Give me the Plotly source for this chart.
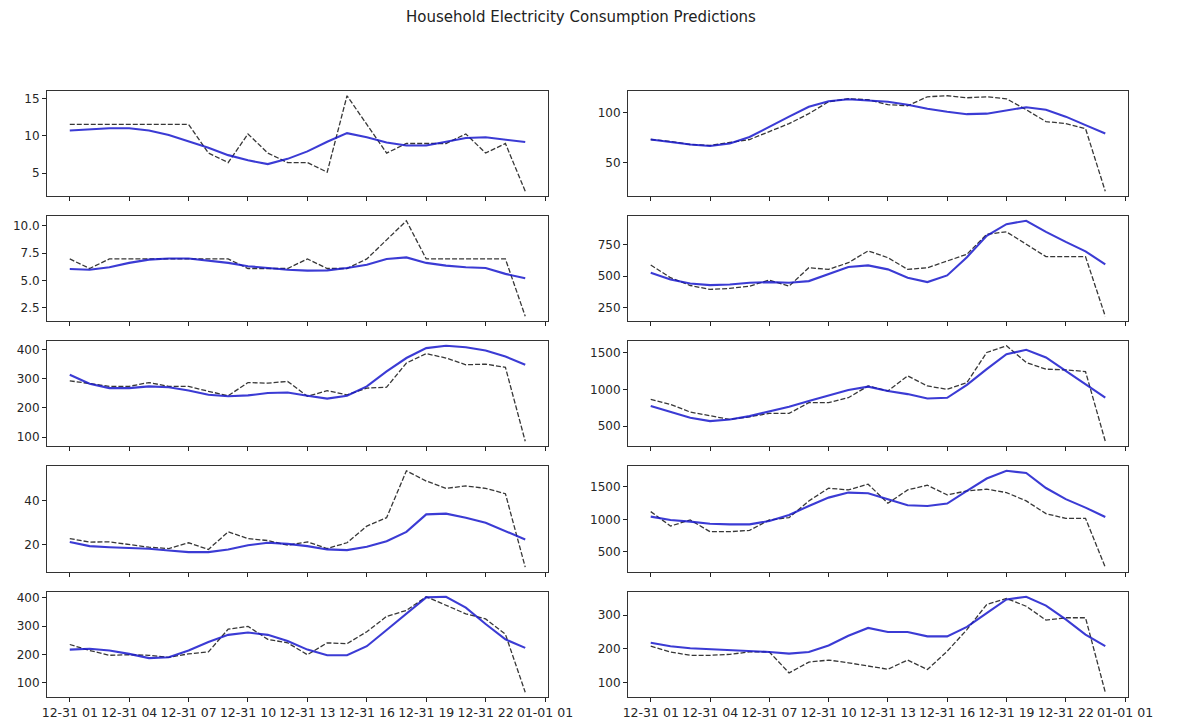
import pandas as pd
import plotly.graph_objects as go
from plotly.subplots import make_subplots

# Hourly timestamps (24 readings) and x tick positions
hours = pd.date_range("2020-12-31 01:00", periods=24, freq="h")
x_ticks = pd.date_range("2020-12-31 01:00", "2021-01-01 01:00", freq="3h")

# Actual (dashed) and predicted (solid) consumption, one pair per household
p1_actual = [11.52, 11.52, 11.52, 11.52, 11.52, 11.52, 11.52, 7.68, 6.4, 10.24, 7.68, 6.4,
             6.4, 5.12, 15.36, 11.52, 7.68, 8.96, 8.96, 8.96, 10.24, 7.68, 8.96, 2.56]
p1_pred = [10.7, 10.9, 11.0, 11.0, 10.7, 10.1, 9.3, 8.4, 7.4, 6.7, 6.2, 6.9,
           7.9, 9.2, 10.35, 9.8, 9.1, 8.7, 8.7, 9.15, 9.7, 9.8, 9.5, 9.15]

p2_actual = [73, 71, 68, 67, 70, 73, 81, 89, 99, 111, 114, 113,
             108, 107, 116, 117, 115, 116, 114, 103, 91, 89, 84, 21]
p2_pred = [73, 70.5, 68, 66.5, 69, 75.5, 86, 96, 106, 111.5, 113.5, 112.5,
           111, 108, 104, 101, 98.5, 99, 102.5, 105.5, 103, 96, 87.5, 79]

p3_actual = [6.96, 6.09, 6.96, 6.96, 6.96, 6.96, 6.96, 6.96, 6.96, 6.09, 6.09, 6.09,
             6.96, 6.09, 6.09, 6.96, 8.7, 10.44, 6.96, 6.96, 6.96, 6.96, 6.96, 1.74]
p3_pred = [6.04, 5.98, 6.2, 6.6, 6.9, 7.0, 7.0, 6.8, 6.6, 6.3, 6.13, 5.98,
           5.9, 5.92, 6.13, 6.43, 6.95, 7.1, 6.6, 6.35, 6.2, 6.13, 5.6, 5.2]

p4_actual = [588, 487, 425, 394, 402, 420, 468, 420, 566, 553, 606, 700,
             646, 553, 566, 620, 673, 832, 851, 753, 654, 654, 654, 181]
p4_pred = [527, 473, 441, 428, 433, 447, 452, 447, 460, 513, 572, 585,
           553, 487, 452, 505, 650, 820, 912, 939, 851, 771, 696, 593]

p5_actual = [293, 283, 274, 274, 287, 274, 274, 257, 242, 287, 285, 291,
             240, 259, 245, 268, 271, 354, 386, 371, 348, 350, 339, 86]
p5_pred = [314, 283, 268, 268, 274, 271, 260, 245, 240, 243, 251, 253,
           242, 232, 242, 274, 325, 371, 405, 413, 408, 397, 376, 348]

p6_actual = [864, 795, 691, 645, 591, 627, 673, 673, 818, 818, 886, 1045,
             977, 1182, 1045, 1000, 1091, 1500, 1591, 1364, 1273, 1264, 1241, 295]
p6_pred = [773, 691, 614, 568, 591, 636, 695, 764, 841, 918, 991, 1036,
           977, 935, 875, 885, 1060, 1273, 1477, 1536, 1432, 1250, 1068, 886]

p7_actual = [22.9, 21.3, 21.4, 20.2, 19.0, 18.4, 21.0, 18.0, 25.9, 22.9, 22.0, 19.9,
             21.4, 18.4, 21.0, 28.5, 32.3, 53.4, 48.8, 45.5, 46.6, 45.5, 43.1, 10.0]
p7_pred = [21.3, 19.5, 19.0, 18.7, 18.3, 17.5, 16.8, 16.8, 18.0, 19.9, 21.0, 20.5,
           19.5, 18.0, 17.7, 19.2, 21.7, 25.9, 33.8, 34.1, 32.3, 30.0, 26.2, 22.5]

p8_actual = [1118, 897, 990, 810, 810, 831, 990, 1026, 1282, 1477, 1451, 1539,
             1246, 1451, 1523, 1374, 1436, 1462, 1410, 1282, 1087, 1015, 1015, 266]
p8_pred = [1041, 990, 964, 933, 923, 923, 974, 1067, 1205, 1333, 1410, 1400,
           1308, 1215, 1205, 1241, 1436, 1626, 1744, 1710, 1480, 1310, 1180, 1035]

p9_actual = [235, 214, 197, 199, 197, 190, 202, 209, 289, 299, 253, 241,
             199, 241, 238, 280, 334, 355, 403, 373, 343, 325, 271, 67]
p9_pred = [217, 220, 214, 202, 187, 190, 214, 244, 269, 277, 269, 247,
           217, 197, 197, 229, 286, 343, 401, 403, 365, 307, 253, 223]

p10_actual = [208, 191, 181, 181, 184, 191, 191, 129, 161, 167, 159, 149,
              140, 167, 139, 193, 257, 331, 349, 326, 285, 292, 292, 72]
p10_pred = [218, 208, 202, 199, 197, 195, 191, 186, 191, 210, 239, 262,
            250, 250, 237, 237, 265, 306, 346, 354, 328, 287, 242, 208]

# y tick labels per panel
p1_ticks = [5, 10, 15]
p2_ticks = [50, 100]
p3_ticks = [2.5, 5.0, 7.5, 10.0]
p4_ticks = [250, 500, 750]
p5_ticks = [100, 200, 300, 400]
p6_ticks = [500, 1000, 1500]
p7_ticks = [20, 40]
p8_ticks = [500, 1000, 1500]
p9_ticks = [100, 200, 300, 400]
p10_ticks = [100, 200, 300]

panels = [
    (p1_actual, p1_pred, p1_ticks, False),
    (p2_actual, p2_pred, p2_ticks, False),
    (p3_actual, p3_pred, p3_ticks, True),
    (p4_actual, p4_pred, p4_ticks, False),
    (p5_actual, p5_pred, p5_ticks, False),
    (p6_actual, p6_pred, p6_ticks, False),
    (p7_actual, p7_pred, p7_ticks, False),
    (p8_actual, p8_pred, p8_ticks, False),
    (p9_actual, p9_pred, p9_ticks, False),
    (p10_actual, p10_pred, p10_ticks, False),
]

W, H = 1184, 722
col_px = [(47, 548), (628, 1128)]
row_px = [(91, 196), (216, 321), (341, 446), (466, 572), (592, 697)]

fig = make_subplots(rows=5, cols=2)

span = hours[-1] - hours[0]
x_range = [hours[0] - span * 0.05, hours[-1] + span * 0.05]

font_family = "DejaVu Sans"

for i, (actual, pred, yt, decimal) in enumerate(panels):
    r, c = i // 2 + 1, i % 2 + 1
    fig.add_trace(go.Scatter(x=hours, y=actual, mode="lines",
                             line=dict(color="rgba(20,20,20,0.85)", width=1.3, dash="5px,2px"),
                             showlegend=False, hoverinfo="skip"), row=r, col=c)
    fig.add_trace(go.Scatter(x=hours, y=pred, mode="lines",
                             line=dict(color="rgba(25,25,205,0.85)", width=2.1),
                             showlegend=False, hoverinfo="skip"), row=r, col=c)

    lo = min(min(actual), min(pred))
    hi = max(max(actual), max(pred))
    pad = (hi - lo) * 0.05
    x0, x1 = col_px[c - 1]
    y0, y1 = row_px[r - 1]
    ax_idx = "" if i == 0 else str(i + 1)
    fig.layout["xaxis" + ax_idx].update(
        domain=[x0 / W, x1 / W], range=x_range,
        tickvals=x_ticks, tickformat="%m-%d %H",
        showticklabels=(r == 5), tickangle=0, automargin=False,
        ticks="outside", ticklen=4, tickwidth=1, tickcolor="#222",
        showline=True, mirror=True, linecolor="#333", linewidth=1,
        showgrid=False, zeroline=False,
        tickfont=dict(family=font_family, size=12.5, color="#262626"),
    )
    fig.layout["yaxis" + ax_idx].update(
        domain=[1 - y1 / H, 1 - y0 / H], range=[lo - pad, hi + pad],
        tickvals=yt, tickformat=".1f" if decimal else "", automargin=False,
        ticks="outside", ticklen=4, tickwidth=1, tickcolor="#222",
        showline=True, mirror=True, linecolor="#333", linewidth=1,
        showgrid=False, zeroline=False,
        tickfont=dict(family=font_family, size=12, color="#262626"),
    )

fig.update_layout(
    width=W, height=H,
    margin=dict(l=0, r=0, t=0, b=0),
    paper_bgcolor="white", plot_bgcolor="white",
    title=dict(text="Household Electricity Consumption Predictions",
               x=581 / W, xanchor="center", y=1 - 17 / H, yanchor="middle",
               font=dict(family=font_family, size=15, color="#222")),
)

fig.write_html("out.html")
